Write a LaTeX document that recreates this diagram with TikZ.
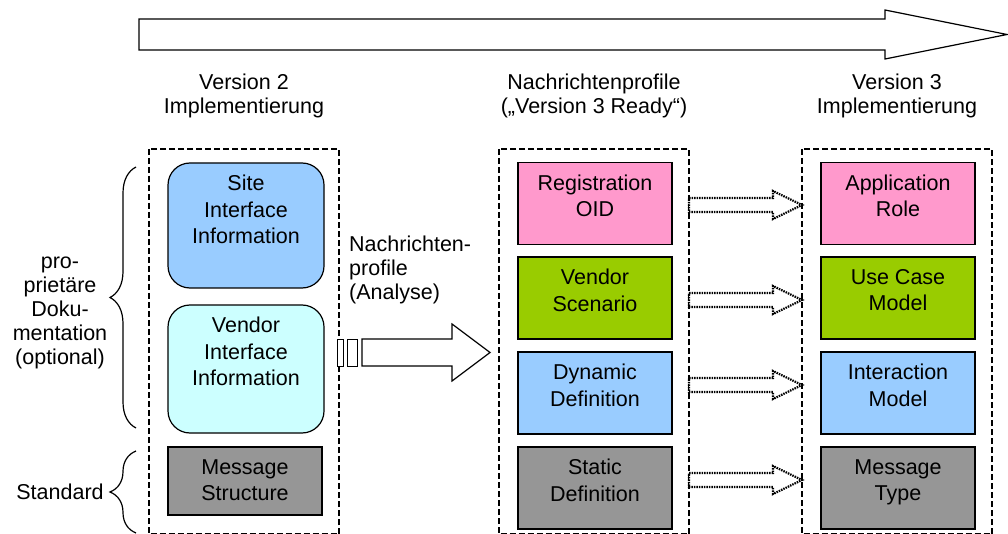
\documentclass[tikz,border=0pt]{standalone}
\usepackage{fontspec}
\setmainfont{Liberation Sans}
\usepackage{xcolor}
\usetikzlibrary{decorations.pathreplacing}

\definecolor{sitecol}{RGB}{153,204,255}
\definecolor{vendorcol}{RGB}{204,255,255}
\definecolor{pinkcol}{RGB}{255,153,204}
\definecolor{greencol}{RGB}{153,204,0}
\definecolor{bluecol}{RGB}{153,204,255}
\definecolor{graycol}{RGB}{150,150,150}

\begin{document}
\begin{tikzpicture}[x=1pt, y=-1pt,
  title/.style={align=center, inner sep=0pt, font=\fontsize{21.5pt}{24pt}\selectfont},
  box/.style={draw, line width=1.2pt, minimum width=154pt, minimum height=#1,
    inner sep=0pt, font=\fontsize{21.5pt}{26.5pt}\selectfont,
    execute at begin node={\begin{minipage}[t][#1][t]{150pt}\centering\vspace*{12.3pt}},
    execute at end node={\end{minipage}}},
  box/.default=82pt,
  rbox/.style={box=#1, rounded corners=22pt, minimum width=156pt},
  frame/.style={draw, line width=2.6pt, dash pattern=on 6pt off 3pt},
  blockarrow/.style={draw, line width=1.2pt, fill=white},
  dotarrow/.style={draw, line width=2.2pt, dash pattern=on 1.5pt off 1pt, fill=white},
  bracket/.style={decorate, decoration={brace, amplitude=26pt}, line width=1.2pt}
]
  \useasboundingbox (0,0) rectangle (1008,534);

  % time line
  \draw[blockarrow] (139,19) -- (885,19) -- (885,10) -- (1007,34.5)
    -- (885,59) -- (885,50) -- (139,50) -- cycle;

  % column headers
  \node[title] (v2title) at (244,96) {Version 2\\Implementierung};
  \node[title] (proftitle) at (594,96) {Nachrichtenprofile\\(„Version 3 Ready“)};
  \node[title] (v3title) at (897,96) {Version 3\\Implementierung};

  % dashed columns
  \draw[frame] (149,149) rectangle (339,534.5);
  \draw[frame] (499,149) rectangle (689,534.5);
  \draw[frame] (802,149) rectangle (992,534.5);

  % version 2
  \node[rbox=125pt, fill=sitecol] (site) at (246,225.5)
    {Site\\Interface\\Information};
  \node[rbox=128pt, fill=vendorcol] (vendor) at (246,369)
    {Vendor\\Interface\\Information};
  \node[box=68pt, fill=graycol] (structure) at (245,481)
    {Message\\Structure};

  % message profiles
  \node[box, fill=pinkcol] (regoid) at (595,203.5) {Registration\\OID};
  \node[box, fill=greencol] (scenario) at (595,298) {Vendor\\Scenario};
  \node[box, fill=bluecol] (dynamic) at (595,393) {Dynamic\\Definition};
  \node[box, fill=graycol] (static) at (595,488) {Static\\Definition};

  % version 3
  \node[box, fill=pinkcol] (role) at (898,203.5) {Application\\Role};
  \node[box, fill=greencol] (usecase) at (898,298) {Use Case\\Model};
  \node[box, fill=bluecol] (interaction) at (898,393) {Interaction\\Model};
  \node[box, fill=graycol] (msgtype) at (898,488) {Message\\Type};

  % analysis arrow
  \node[title, anchor=west, align=left] (analyse) at (349,270)
    {Nachrichten-\\profile\\(Analyse)};
  \draw[blockarrow, line width=1pt] (337,339) rectangle (343,366);
  \draw[blockarrow, line width=1pt] (347,339) rectangle (357,366);
  \draw[blockarrow] (362,339) -- (452,339) -- (452,324) -- (490,352.5)
    -- (452,381) -- (452,366) -- (362,366) -- cycle;

  % mapping arrows
  \foreach \y in {205,300,385,480}
    \draw[dotarrow] (689,\y-7) -- (773,\y-7) -- (773,\y-14) -- (802,\y)
      -- (773,\y+14) -- (773,\y+7) -- (689,\y+7) -- cycle;

  % braces
  \draw[bracket] (136,428) -- (136,167);
  \draw[bracket] (136,533) -- (136,451);
  \node[title] (prop) at (60,313) {pro-\\prietäre\\Doku-\\mentation\\(optional)};
  \node[title] (std) at (60,492) {Standard};
\end{tikzpicture}
\end{document}
